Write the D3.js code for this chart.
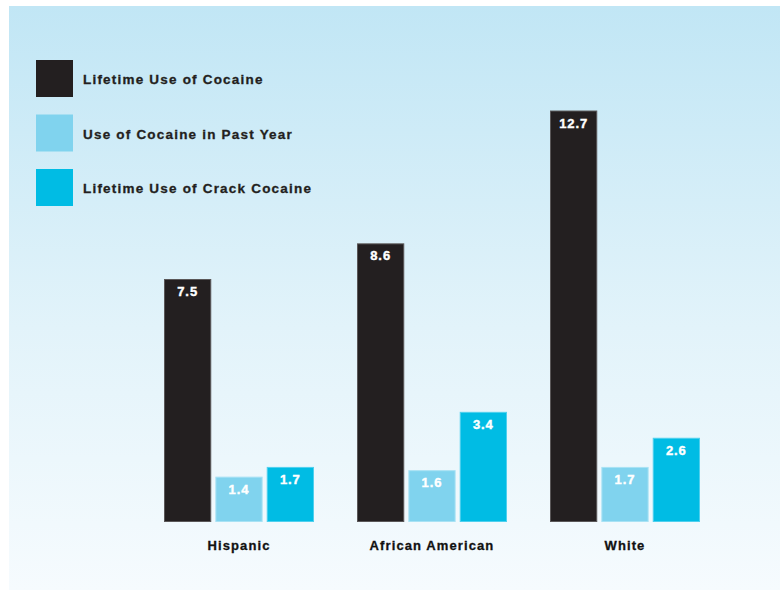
<!DOCTYPE html>
<html>
<head>
<meta charset="utf-8">
<script src="https://cdn.jsdelivr.net/npm/d3@7"></script>
<style>
  html, body { margin: 0; padding: 0; background: #ffffff; }
  svg { display: block; }
  text { font-family: "Liberation Sans", Arial, Helvetica, sans-serif; font-weight: bold; }
</style>
</head>
<body>
<svg id="chart" width="780" height="590"></svg>
<script>
// Cocaine use by ethnic group (percent)
const groups = ["Hispanic", "African American", "White"];
const seriesNames = ["Lifetime Use of Cocaine", "Use of Cocaine in Past Year", "Lifetime Use of Crack Cocaine"];
const lifetimeCocaine = [7.5, 8.6, 12.7];
const pastYearCocaine = [1.4, 1.6, 1.7];
const lifetimeCrack = [1.7, 3.4, 2.6];
const seriesValues = [lifetimeCocaine, pastYearCocaine, lifetimeCrack];

const fills = ["#231f20", "#80d3ee", "#00bce4"];
const edges = ["#5a5758", "#a8e2f4", "#4fd0ee"];

const svg = d3.select("#chart");

// Soft blue-to-white panel background
const defs = svg.append("defs");
const grad = defs.append("linearGradient")
  .attr("id", "bg").attr("x1", 0).attr("y1", 0).attr("x2", 0).attr("y2", 1);
grad.append("stop").attr("offset", "0%").attr("stop-color", "#c1e6f5");
grad.append("stop").attr("offset", "55%").attr("stop-color", "#e2f3fa");
grad.append("stop").attr("offset", "100%").attr("stop-color", "#f6fbfe");
svg.append("rect").attr("x", 9).attr("y", 6).attr("width", 771).attr("height", 584)
  .attr("fill", "url(#bg)");

// Scales
const x0 = d3.scaleBand().domain(groups).range([142.5, 721.5])
  .paddingInner(0.2228).paddingOuter(0.1114);
const x1 = d3.scaleBand().domain(d3.range(seriesNames.length))
  .range([0, x0.bandwidth()]).paddingInner(0.08);
const y = d3.scaleLinear().domain([0, 14]).range([522, 68.4]);

// Bars
const data = groups.map((g, gi) => ({
  group: g,
  values: seriesValues.map((vals, si) => ({ si, value: vals[gi] }))
}));

const gGroups = svg.append("g").selectAll("g").data(data).join("g")
  .attr("transform", d => `translate(${x0(d.group)},0)`);

gGroups.selectAll("rect").data(d => d.values).join("rect")
  .attr("x", d => x1(d.si) + 0.5)
  .attr("y", d => y(d.value) + 0.5)
  .attr("width", x1.bandwidth() - 1)
  .attr("height", d => y(0) - y(d.value) - 1)
  .attr("fill", d => fills[d.si])
  .attr("stroke", d => edges[d.si])
  .attr("stroke-width", 1);

// Value labels inside bar tops (heavy weight via a thin matching stroke)
gGroups.selectAll("text.val").data(d => d.values).join("text")
  .attr("class", "val")
  .attr("x", d => x1(d.si) + x1.bandwidth() / 2)
  .attr("y", d => y(d.value) + 17)
  .attr("text-anchor", "middle")
  .attr("font-size", 13)
  .attr("letter-spacing", 0.9)
  .attr("fill", "#ffffff")
  .attr("stroke", "#ffffff")
  .attr("stroke-width", 0.4)
  .text(d => d.value.toFixed(1));

// Category labels
svg.append("g").selectAll("text").data(groups).join("text")
  .attr("x", d => x0(d) + x0.bandwidth() / 2)
  .attr("y", 550)
  .attr("text-anchor", "middle")
  .attr("font-size", 13)
  .attr("letter-spacing", 1.1)
  .attr("fill", "#111111")
  .attr("stroke", "#111111")
  .attr("stroke-width", 0.3)
  .text(d => d);

// Legend
const legend = svg.append("g").selectAll("g").data(seriesNames).join("g")
  .attr("transform", (d, i) => `translate(36,${60 + i * 54.5})`);
legend.append("rect")
  .attr("width", 37).attr("height", 37)
  .attr("fill", (d, i) => fills[i]);
legend.append("text")
  .attr("x", 47).attr("y", 24)
  .attr("font-size", 13.5)
  .attr("letter-spacing", 1.2)
  .attr("fill", "#231f20")
  .attr("stroke", "#231f20")
  .attr("stroke-width", 0.3)
  .text(d => d);
</script>
</body>
</html>
